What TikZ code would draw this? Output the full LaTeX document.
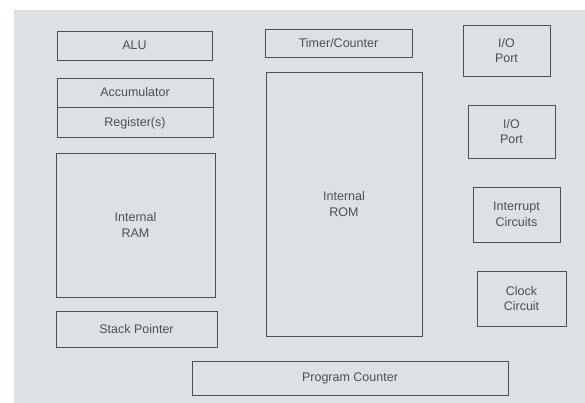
\documentclass[tikz,border=0pt]{standalone}
\usepackage{fontspec}
\setmainfont{Liberation Sans}
\usetikzlibrary{positioning}

\definecolor{paper}{RGB}{221,225,227}
\definecolor{ink}{RGB}{78,80,82}

\tikzset{
  blk/.style={draw=ink, line width=0.8pt, text=ink, align=center, inner sep=0pt,
    font=\fontsize{12.5}{15.5}\selectfont},
}

\begin{document}
\begin{tikzpicture}[x=1pt,y=-1pt]
  \useasboundingbox (0,0) rectangle (585,403);
  % the page in the photo
  \fill[white] (0,0) rectangle (585,403);
  \fill[paper] (14,10) rectangle (585,403);
  % left column
  \node[blk, minimum width=155pt, minimum height=29pt] (alu) at (134.5,45.5) {ALU};
  \node[blk, minimum width=156pt, minimum height=29pt] (acc) at (135,92.5) {Accumulator};
  \node[blk, minimum width=156pt, minimum height=30pt, below=0pt of acc] (reg) {Register(s)};
  \node[blk, minimum width=159pt, minimum height=144pt] (ram) at (135.5,225) {Internal\\RAM};
  \node[blk, minimum width=161pt, minimum height=36pt] (sp) at (136.5,329) {Stack Pointer};
  % middle column
  \node[blk, minimum width=147pt, minimum height=28pt] (timer) at (338.5,43) {Timer/Counter};
  \node[blk, minimum width=156pt, minimum height=264pt] (rom) at (344,204) {Internal\\ROM};
  \node[blk, minimum width=316pt, minimum height=34pt] (pc) at (350,378) {Program Counter};
  % right column
  \node[blk, minimum width=87pt, minimum height=51pt] (io1) at (506.5,50.5) {I/O\\Port};
  \node[blk, minimum width=87pt, minimum height=53pt] (io2) at (511.5,131.5) {I/O\\Port};
  \node[blk, minimum width=87pt, minimum height=55pt] (irq) at (516.5,214.5) {Interrupt\\Circuits};
  \node[blk, minimum width=89pt, minimum height=55pt] (clk) at (521.5,298.5) {Clock\\Circuit};
\end{tikzpicture}
\end{document}
